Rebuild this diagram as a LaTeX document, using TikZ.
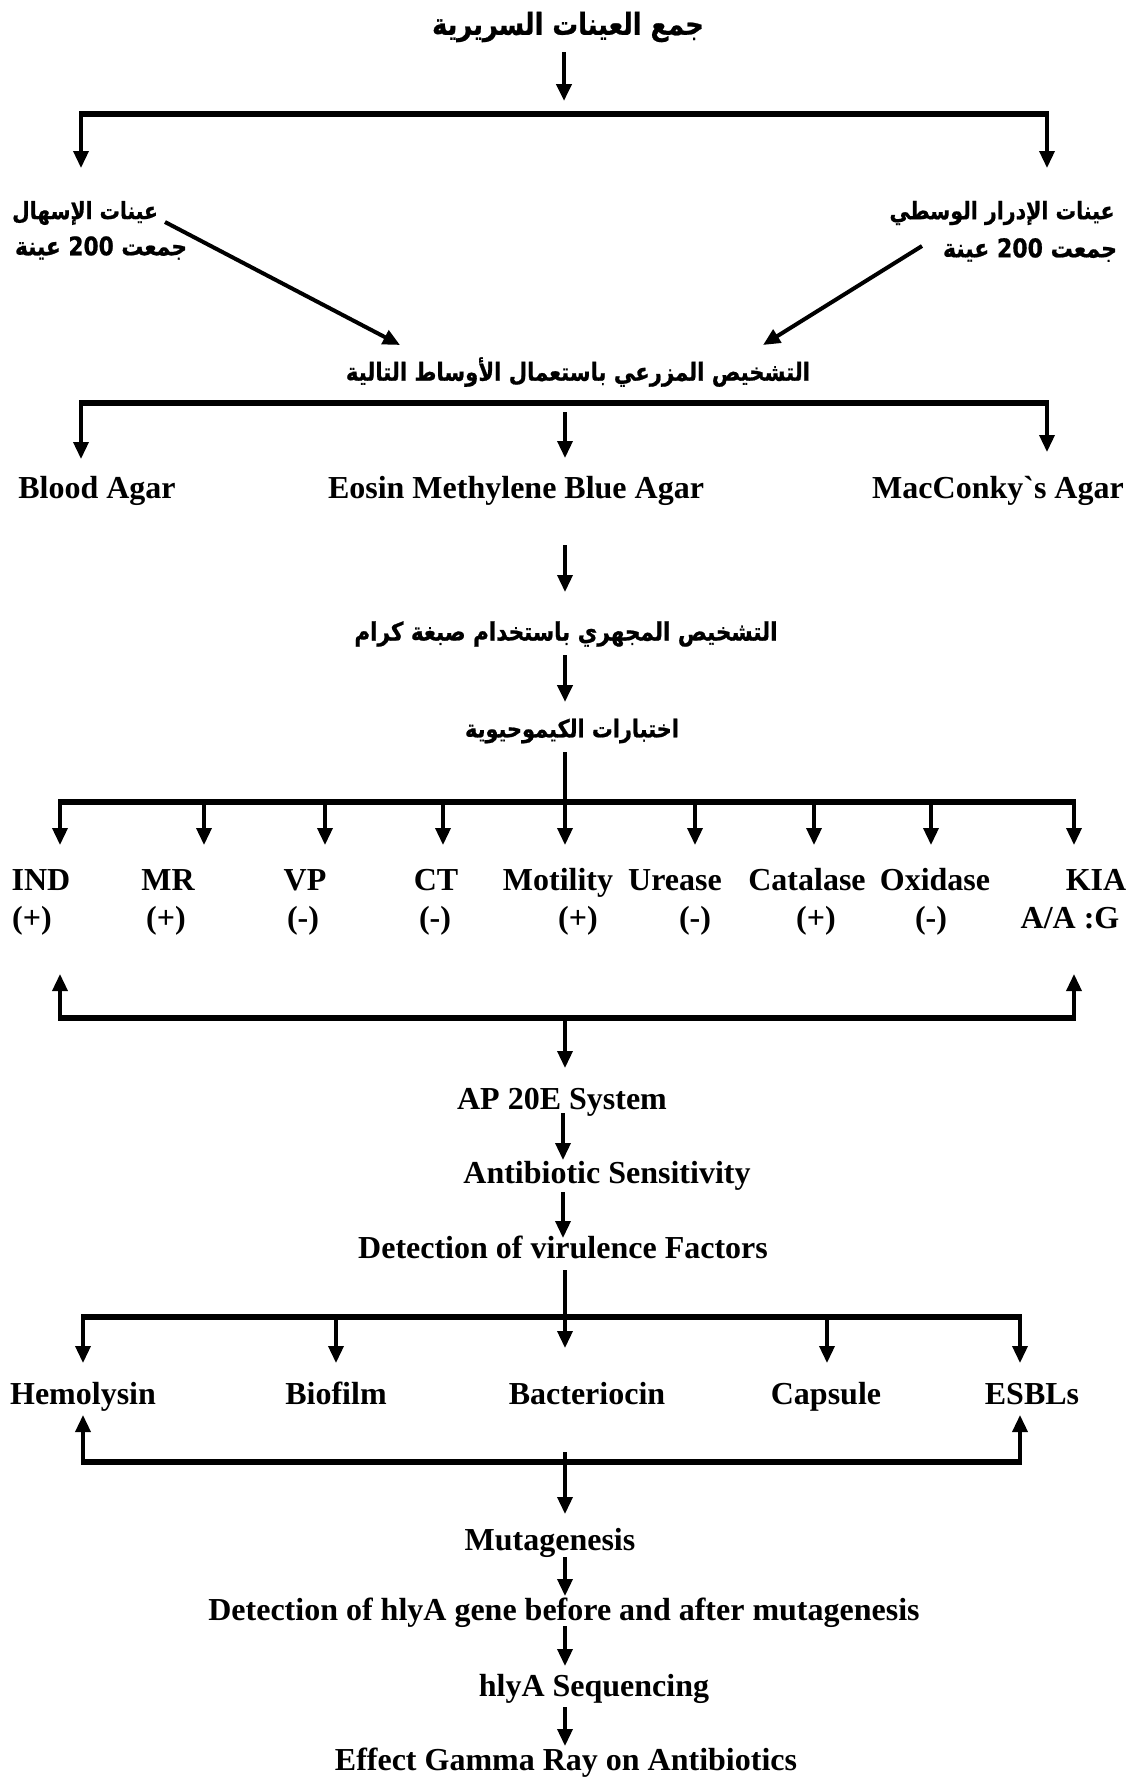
\documentclass[tikz,border=0pt]{standalone}
\usepackage{fontspec}
\setmainfont{Liberation Serif}
\newfontfamily\arabicfont[Script=Arabic, FakeStretch=0.85, FakeBold=0.8]{DejaVu Sans}
\TeXXeTstate=1
\usetikzlibrary{arrows.meta}
\begin{document}
\begin{tikzpicture}[x=1pt,y=-1pt,
  lat/.style={font=\fontsize{32}{36}\selectfont\bfseries, inner sep=0pt, text height=21.5pt, text depth=0pt, anchor=center},
  ar/.style={font=\fontsize{#1}{30}\selectfont\arabicfont\bfseries, inner sep=0pt, anchor=center},
  ar/.default=25,
  bar/.style={line width=6pt},
  stem/.style={line width=3.5pt},
  arr/.style={line width=3.5pt, -{Triangle[length=17pt,width=15pt]}},
]
\useasboundingbox[fill=white] (0,0) rectangle (1127,1780);

% ---------- top ----------
\node[ar=30.2] (t0) at (568,27) {\beginR جمع العينات السريرية\endR};
\coordinate (a0s) at (564,52);
\coordinate (a0e) at (564,101);
\draw[arr,line width=4.5pt] (a0s) -- (a0e);
\coordinate (b1l) at (81,114);
\coordinate (b1r) at (1047,114);
\coordinate (b1le) at (81,168);
\coordinate (b1re) at (1047,168);
\draw[bar] ([xshift=-2pt]b1l) -- ([xshift=2pt]b1r);
\draw[arr] (b1l) -- (b1le);
\draw[arr] (b1r) -- (b1re);

\node[ar=23.8] (ll1) at (85,213) {\beginR عينات الإسهال\endR};
\node[ar=25.6] (ll2) at (101,248) {\beginR جمعت 200 عينة\endR};
\node[ar=24.1] (rl1) at (1002,213) {\beginR عينات الإدرار الوسطي\endR};
\node[ar=25.9] (rl2) at (1030,250) {\beginR جمعت 200 عينة\endR};

\coordinate (dls) at (165,222);
\coordinate (dle) at (400,345);
\coordinate (drs) at (922,246);
\coordinate (dre) at (763,345);
\draw[arr,line width=4pt] (dls) -- (dle);
\draw[arr,line width=4pt] (drs) -- (dre);

\node[ar=24.9] (cult) at (578,372) {\beginR التشخيص المزرعي باستعمال الأوساط التالية\endR};

% ---------- culture media ----------
\coordinate (b2l) at (81,403);
\coordinate (b2r) at (1047,403);
\draw[bar] ([xshift=-2pt]b2l) -- ([xshift=2pt]b2r);
\coordinate (b2le) at (81,459);
\coordinate (b2ms) at (565,412);
\coordinate (b2me) at (565,458);
\coordinate (b2re) at (1047,452);
\draw[arr] (b2l) -- (b2le);
\draw[arr] (b2ms) -- (b2me);
\draw[arr] (b2r) -- (b2re);

\node[lat] (blood) at (97,488) {Blood Agar};
\node[lat] (emb) at (516,488) {Eosin Methylene Blue Agar};
\node[lat] (mac) at (998,488) {MacConky\textasciigrave s Agar};

\coordinate (a3s) at (565,545);
\coordinate (a3e) at (565,592);
\draw[arr] (a3s) -- (a3e);
\node[ar=25.3] (micro) at (566,634) {\beginR التشخيص المجهري باستخدام صبغة كرام\endR};
\coordinate (a4s) at (565,655);
\coordinate (a4e) at (565,702);
\draw[arr,line width=4.5pt] (a4s) -- (a4e);
\node[ar=24.5] (bio) at (572,731) {\beginR اختبارات الكيموحيوية\endR};

% ---------- biochemical tests ----------
\coordinate (s5s) at (565,752);
\coordinate (s5e) at (565,802);
\draw[stem] (s5s) -- (s5e);
\coordinate (b3l) at (60,802);
\coordinate (b3r) at (1074,802);
\draw[bar,line width=5.5pt] ([xshift=-2pt]b3l) -- ([xshift=2pt]b3r);
\foreach \x/\n in {60/p1,204/p2,325/p3,443/p4,565/p5,695/p6,814/p7,931/p8,1074/p9}{
  \coordinate (\n s) at (\x,802);
  \coordinate (\n e) at (\x,845);
  \draw[arr] (\n s) -- (\n e);
}
\node[lat] (ind) at (41,880) {IND};
\node[lat] (mr) at (168,880) {MR};
\node[lat] (vp) at (305,880) {VP};
\node[lat] (ct) at (436,880) {CT};
\node[lat] (mot) at (558,880) {Motility};
\node[lat] (ure) at (675,880) {Urease};
\node[lat] (cat) at (807,880) {Catalase};
\node[lat] (oxi) at (935,880) {Oxidase};
\node[lat] (kia) at (1096,880) {KIA};
\node[lat] (indr) at (32,918) {(+)};
\node[lat] (mrr) at (166,918) {(+)};
\node[lat] (vpr) at (303,918) {(-)};
\node[lat] (ctr) at (435,918) {(-)};
\node[lat] (motr) at (578,918) {(+)};
\node[lat] (urer) at (695,918) {(-)};
\node[lat] (catr) at (816,918) {(+)};
\node[lat] (oxir) at (931,918) {(-)};
\node[lat] (kiar) at (1070,918) {A/A :G};

\coordinate (b4l) at (60,1018);
\coordinate (b4r) at (1074,1018);
\draw[bar,line width=5.5pt] ([xshift=-2pt]b4l) -- ([xshift=2pt]b4r);
\coordinate (u1e) at (60,974);
\coordinate (u2e) at (1074,974);
\draw[arr] (b4l) -- (u1e);
\draw[arr] (b4r) -- (u2e);
\coordinate (a6e) at (565,1068);
\coordinate (b4m) at (565,1018);
\draw[arr] (b4m) -- (a6e);

\node[lat] (api) at (562,1099) {AP 20E System};
\coordinate (a7s) at (563,1113);
\coordinate (a7e) at (563,1160);
\draw[arr] (a7s) -- (a7e);
\node[lat] (abs) at (607,1173) {Antibiotic Sensitivity};
\coordinate (a8s) at (563,1192);
\coordinate (a8e) at (563,1238);
\draw[arr] (a8s) -- (a8e);
\node[lat] (vir) at (563,1248) {Detection of virulence Factors};

% ---------- virulence factors ----------
\coordinate (s9s) at (565,1270);
\coordinate (s9e) at (565,1348);
\draw[arr] (s9s) -- (s9e);
\coordinate (b5l) at (83,1317);
\coordinate (b5r) at (1020,1317);
\draw[bar] ([xshift=-2pt]b5l) -- ([xshift=2pt]b5r);
\foreach \x/\n in {83/v1,336/v2,827/v4,1020/v5}{
  \coordinate (\n s) at (\x,1317);
  \coordinate (\n e) at (\x,1363);
  \draw[arr] (\n s) -- (\n e);
}
\node[lat] (hem) at (83,1394) {Hemolysin};
\node[lat] (bf) at (336,1394) {Biofilm};
\node[lat] (bac) at (587,1394) {Bacteriocin};
\node[lat] (cap) at (826,1394) {Capsule};
\node[lat] (esb) at (1032,1394) {ESBLs};

\coordinate (b6l) at (83,1462);
\coordinate (b6r) at (1020,1462);
\draw[bar] ([xshift=-2pt]b6l) -- ([xshift=2pt]b6r);
\coordinate (w1e) at (83,1415);
\coordinate (w2e) at (1020,1415);
\draw[arr] (b6l) -- (w1e);
\draw[arr] (b6r) -- (w2e);
\coordinate (s10s) at (565,1452);
\coordinate (s10e) at (565,1514);
\draw[arr] (s10s) -- (s10e);

% ---------- final chain ----------
\node[lat] (mut) at (550,1540) {Mutagenesis};
\coordinate (a11s) at (565,1557);
\coordinate (a11e) at (565,1596);
\draw[arr] (a11s) -- (a11e);
\node[lat] (hly) at (564,1610) {Detection of hlyA gene before and after mutagenesis};
\coordinate (a12s) at (565,1626);
\coordinate (a12e) at (565,1666);
\draw[arr] (a12s) -- (a12e);
\node[lat] (seq) at (594,1686) {hlyA Sequencing};
\coordinate (a13s) at (565,1707);
\coordinate (a13e) at (565,1746);
\draw[arr] (a13s) -- (a13e);
\node[lat] (gam) at (566,1760) {Effect Gamma Ray on Antibiotics};
\end{tikzpicture}
\end{document}
